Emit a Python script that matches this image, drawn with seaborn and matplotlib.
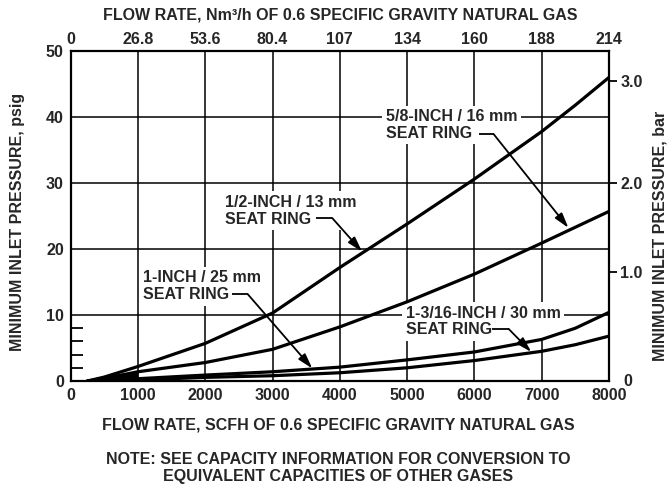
import matplotlib
matplotlib.use("Agg")
import matplotlib.pyplot as plt
import seaborn as sns
import pandas as pd

# ---------------- data ----------------
flow_scfh = [250, 500, 1000, 2000, 3000, 4000, 5000, 6000, 7000, 7500, 8000]
p_half_inch = [0, 0.6, 2.2, 5.7, 10.3, 17.2, 23.8, 30.6, 37.8, 41.8, 46.0]
p_five_eighths = [0, 0.4, 1.4, 2.8, 4.8, 8.2, 12.0, 16.2, 20.9, 23.3, 25.7]
p_one_inch = [0, 0.1, 0.35, 0.9, 1.4, 2.1, 3.2, 4.4, 6.3, 8.0, 10.4]
p_one_3_16 = [0, 0.05, 0.15, 0.55, 0.8, 1.25, 2.0, 3.1, 4.5, 5.5, 6.8]

series_names = ["1/2-INCH", "5/8-INCH", "1-INCH", "1-3/16-INCH"]

x_ticks = [0, 1000, 2000, 3000, 4000, 5000, 6000, 7000, 8000]
x_tick_labels = ["0", "1000", "2000", "3000", "4000", "5000", "6000", "7000", "8000"]
top_tick_labels = ["0", "26.8", "53.6", "80.4", "107", "134", "160", "188", "214"]
y_ticks = [0, 10, 20, 30, 40, 50]
y_minor_ticks = [2, 4, 6, 8]
bar_tick_psig = [16.5, 30.0, 45.5]
bar_tick_labels = ["1.0", "2.0", "3.0"]

x_title = "FLOW RATE, SCFH OF 0.6 SPECIFIC GRAVITY NATURAL GAS"
top_title = "FLOW RATE, Nm\u00b3/h OF 0.6 SPECIFIC GRAVITY NATURAL GAS"
y_title = "MINIMUM INLET PRESSURE, psig"
y2_title = "MINIMUM INLET PRESSURE, bar"
note_text = "NOTE: SEE CAPACITY INFORMATION FOR CONVERSION TO\nEQUIVALENT CAPACITIES OF OTHER GASES"

# label text, text anchor (scfh, psig), leader start/end (scfh), leader y, arrow tip
labels = [
    ("1/2-INCH / 13 mm\nSEAT RING", (2287, 25.8), (3645, 3886), 24.7, (4330, 19.6)),
    ("1-INCH / 25 mm\nSEAT RING", (1071, 14.35), (2404, 2627), 13.2, (3590, 1.9)),
    ("5/8-INCH / 16 mm\nSEAT RING", (4681, 38.8), (6064, 6286), 37.4, (7397, 23.2)),
    ("1-3/16-INCH / 30 mm\nSEAT RING", (4978, 9.0), (6256, 6508), 7.9, (6844, 4.4)),
]

# ---------------- figure ----------------
sns.set_theme(style="white")
plt.rcParams["font.family"] = ["Liberation Sans", "DejaVu Sans"]
plt.rcParams["font.weight"] = "bold"
FS = 11.5

df = pd.concat([
    pd.DataFrame({"flow": flow_scfh, "psig": vals, "seat": name})
    for name, vals in zip(series_names, [p_half_inch, p_five_eighths, p_one_inch, p_one_3_16])
])

fig = plt.figure(figsize=(6.72, 4.88), dpi=100)
ax = fig.add_axes([70.7 / 672, 1 - 381 / 488, (609 - 70.7) / 672, (381 - 51) / 488])

sns.lineplot(data=df, x="flow", y="psig", hue="seat",
             palette={n: "black" for n in series_names},
             linewidth=2.3, legend=False, ax=ax, zorder=3)
# merged wedge of curves near origin
ax.fill_between(flow_scfh[:3], 0, p_five_eighths[:3], color="black", lw=0, zorder=3)

ax.set_xlim(0, 8000)
ax.set_ylim(0, 50)
ax.set_xticks(x_ticks)
ax.set_xticklabels(x_tick_labels)
ax.set_yticks(y_ticks)
ax.set_yticks(y_minor_ticks, minor=True)
ax.set_axisbelow(True)
ax.grid(True, which="major", color="black", linewidth=1.1)
ax.tick_params(axis="both", which="major", length=0, labelsize=FS, pad=5)
ax.tick_params(axis="y", which="minor", direction="in", length=8.5, width=1.3, color="black", left=True)
ax.set_xlabel("")
ax.set_ylabel("")
for sp in ax.spines.values():
    sp.set_visible(True)
    sp.set_color("black")
    sp.set_linewidth(1.6)
for t in ax.get_xticklabels() + ax.get_yticklabels():
    t.set_fontweight("bold")

# top axis
axt = ax.twiny()
axt.set_xlim(ax.get_xlim())
axt.set_xticks(x_ticks)
axt.set_xticklabels(top_tick_labels, fontweight="bold")
axt.tick_params(axis="x", length=0, labelsize=FS, pad=3)
axt.grid(False)

# right axis (bar)
axr = ax.twinx()
axr.set_ylim(ax.get_ylim())
axr.set_yticks(bar_tick_psig)
axr.set_yticklabels(bar_tick_labels, fontweight="bold")
axr.tick_params(axis="y", direction="out", length=6, width=1.3, color="black",
                right=True, labelsize=FS, pad=2)
axr.grid(False)
for a in (axt, axr):
    for sp in a.spines.values():
        sp.set_visible(False)
fig.text(628 / 672, 1 - 381 / 488, "0", fontsize=FS, fontweight="bold", ha="center", va="center")

# annotations
for text, (tx, ty), (l0, l1), ly, tip in labels:
    ax.text(tx, ty, text, ha="left", va="center", fontsize=FS, fontweight="bold",
            linespacing=1.15, zorder=2,
            bbox=dict(facecolor="white", edgecolor="none", pad=2.5))
    ax.plot([l0, l1], [ly, ly], color="black", lw=1.3, zorder=4, solid_capstyle="butt")
    ax.annotate("", xy=tip, xytext=(l1, ly),
                arrowprops=dict(arrowstyle="-|>,head_length=0.75,head_width=0.22",
                                color="black", lw=1.3, shrinkA=0, shrinkB=0),
                zorder=4)

# titles
fig.text(340 / 672, 1 - 15 / 488, top_title, fontsize=FS, fontweight="bold", ha="center", va="center")
fig.text(338 / 672, 1 - 425 / 488, x_title, fontsize=FS, fontweight="bold", ha="center", va="center")
fig.text(338 / 672, 1 - 468 / 488, note_text, fontsize=FS, fontweight="bold", ha="center", va="center",
         linespacing=1.1)
fig.text(18 / 672, 1 - 222 / 488, y_title, fontsize=FS, fontweight="bold", rotation=90,
         ha="center", va="center")
fig.text(660 / 672, 1 - 236 / 488, y2_title, fontsize=FS, fontweight="bold", rotation=90,
         ha="center", va="center")

fig.savefig("out.png", dpi=100, facecolor="white")
